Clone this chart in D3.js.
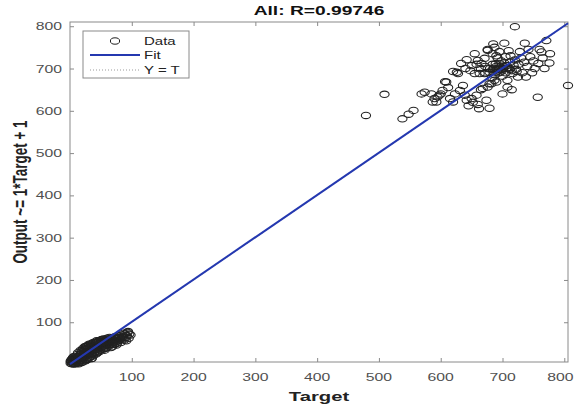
<!DOCTYPE html>
<html>
<head>
<meta charset="utf-8">
<script src="https://cdn.jsdelivr.net/npm/d3@7"></script>
<style>
  html, body { margin: 0; padding: 0; background: #fff; }
  svg { display: block; font-family: "Liberation Sans", Arial, Helvetica, sans-serif; }
</style>
</head>
<body>
<svg id="chart" width="575" height="408"></svg>
<script>
// ---- data ----
const titleText = "All: R=0.99746";
const xLabel = "Target";
const yLabel = "Output ~= 1*Target + 1";
const xTicks = [100, 200, 300, 400, 500, 600, 700, 800];
const yTicks = [100, 200, 300, 400, 500, 600, 700, 800];
const xDomain = [0, 806];
const yDomain = [6, 810];
const fitSlope = 1;
const fitIntercept = 1;
const legendLabels = ["Data", "Fit", "Y = T"];

// upper cluster [target, output]
const highPoints = [
  [479,589],[509,639],[538,581],[548,592],[720,799],[806,660],[757,632],[736,760],[771,766],[763,739],[777,735],[776,713],[768,700],
  [556,601],[569,640],[574,644],[585,640],[590,629],[593,621],[587,621],[598,637],[603,648],[609,668],[615,629],[620,621],[623,640],
  [631,648],[639,637],[642,625],[650,629],[658,637],[626,691],[628,688],[620,693],[607,669],[600,640],[595,633],[612,655],[636,660],
  [645,612],[652,620],[660,615],[665,650],[662,605],[640,700],[633,712],[642,721],[655,735],[676,745],[660,719],
  [650,707],[671,724],[676,743],[684,735],[687,750],[655,688],[663,688],[671,688],[679,691],[687,695],[692,700],[668,653],[676,656],
  [682,664],[687,672],[679,664],[679,606],[674,625],[708,656],[690,705],[695,712],[700,698],[702,705],[705,690],[698,718],[710,702],
  [712,715],[715,695],[718,708],[720,720],[700,682],[688,685],[694,690],[684,710],[680,700],[672,705],[666,712],[692,725],[705,728],
  [713,730],[722,698],[726,710],[730,725],[735,715],[740,705],[732,690],[725,680],[708,672],[690,668],[700,640],[715,650],[728,740],
  [745,728],[750,718],[742,745],[752,700],[758,712],[765,725],[760,745],[748,690],[738,680],[695,740],[685,758],[703,760],[690,730],
  [710,742],[697,692],[683,678],[672,690],[665,700],[658,710],[648,695],[686,700],[699,708],[706,700],[716,688],[723,693],[694,698],[689,711],
  [696,703],[703,713],[691,694],[707,707],[684,698],[701,701],[676,700],[712,698]
];

// lower cluster [target, output]
const lowPoints = [
  [1,3],[2,6],[3,2],[4,9],[5,4],[6,12],[7,7],[8,3],[9,10],[10,15],[3,12],[6,1],[8,14],[2,10],[5,17],[10,6],[7,19],[9,2],[4,14],[1,8],
  [11,9],[12,18],[13,4],[14,12],[15,22],[16,8],[17,15],[18,26],[19,5],[20,18],[12,24],[14,2],[16,20],[18,11],[19,30],[11,14],[13,28],[15,6],[17,33],[20,10],
  [21,14],[22,25],[23,36],[24,8],[25,20],[26,42],[27,30],[28,12],[29,25],[30,45],[21,38],[23,18],[25,34],[27,44],[28,22],[29,38],[30,15],[22,31],[24,42],[26,10],
  [31,28],[32,40],[33,48],[34,20],[35,14],[36,35],[37,50],[38,26],[39,44],[40,30],[32,18],[34,46],[36,24],[38,52],[40,40],[33,32],[35,42],[37,20],[39,36],[31,48],
  [41,48],[42,25],[43,36],[44,54],[45,30],[46,44],[47,56],[48,34],[49,50],[50,40],[42,52],[44,28],[46,54],[48,45],[50,58],[41,38],[43,56],[45,48],[47,30],[49,42],
  [51,46],[52,55],[53,36],[54,60],[55,44],[56,52],[57,38],[58,58],[59,48],[60,62],[52,42],[54,50],[56,34],[58,46],[60,55],[53,60],[55,57],[57,48],[59,40],[51,58],
  [61,50],[62,58],[63,44],[64,64],[65,52],[66,40],[67,60],[68,42],[69,56],[70,64],[62,46],[64,54],[66,62],[68,48],[70,52],
  [71,58],[72,48],[73,66],[74,54],[75,60],[76,50],[77,64],[78,56],[79,68],[80,58],[72,62],[75,46],[78,62],
  [81,64],[82,52],[84,70],[85,60],[86,66],[88,58],[89,72],[90,64],[92,68],[93,76],[95,62],[96,72],[98,70],[94,78],[91,56],[35,14],
  [27,36],[33,40],[39,28],[45,38],[51,52],[57,54],[63,56],[69,48],[83,62],[87,74],[24,28],[18,20],[14,18],[30,32],[42,44]
];

// ---- layout ----
const svg = d3.select("#chart");
const W = 575;
const L = 70, R = 568, T = 22, B = 362;
const x = d3.scaleLinear().domain(xDomain).range([L, R]);
const y = d3.scaleLinear().domain(yDomain).range([B, T]);
const SX = 1.5; // horizontal text stretch of the reference
const axisColor = "#8a8a8a";
const labelColor = "#505050";

// box
svg.append("rect").attr("x", L).attr("y", T).attr("width", R - L).attr("height", B - T)
  .attr("fill", "#fff").attr("stroke", axisColor).attr("stroke-width", 1);

// axes with inward ticks
const gxB = svg.append("g").attr("transform", `translate(0,${B})`)
  .call(d3.axisBottom(x).tickValues(xTicks).tickSizeInner(-4).tickSizeOuter(0).tickFormat(() => ""));
const gxT = svg.append("g").attr("transform", `translate(0,${T})`)
  .call(d3.axisTop(x).tickValues(xTicks).tickSizeInner(-4).tickSizeOuter(0).tickFormat(() => ""));
const gyL = svg.append("g").attr("transform", `translate(${L},0)`)
  .call(d3.axisLeft(y).tickValues(yTicks).tickSizeInner(-4).tickSizeOuter(0).tickFormat(() => ""));
const gyR = svg.append("g").attr("transform", `translate(${R},0)`)
  .call(d3.axisRight(y).tickValues(yTicks).tickSizeInner(-4).tickSizeOuter(0).tickFormat(() => ""));
[gxB, gxT, gyL, gyR].forEach(g => {
  g.select(".domain").remove();
  g.selectAll("line").attr("stroke", axisColor);
});

// tick labels (stretched horizontally like the reference)
const tickFont = 10.5;
const xHalf = 1.668 * tickFont * SX / 2;
svg.append("g").selectAll("text").data(xTicks).join("text")
  .attr("transform", d => `translate(${Math.min(x(d), W - xHalf - 1.5)},${B + 19}) scale(${SX},1)`)
  .attr("text-anchor", "middle").attr("font-size", tickFont).attr("fill", labelColor)
  .text(d => d);
svg.append("g").selectAll("text").data(yTicks).join("text")
  .attr("transform", d => `translate(${L - 8},${y(d) + 4}) scale(${SX},1)`)
  .attr("text-anchor", "end").attr("font-size", tickFont).attr("fill", labelColor)
  .text(d => d);

// Y = T line (dotted)
svg.append("line")
  .attr("x1", x(Math.max(xDomain[0], yDomain[0]))).attr("y1", y(Math.max(xDomain[0], yDomain[0])))
  .attr("x2", x(xDomain[1])).attr("y2", y(xDomain[1]))
  .attr("stroke", "#9a9a9a").attr("stroke-width", 1).attr("stroke-dasharray", "1,2");

// data points
const allPts = lowPoints.concat(highPoints);
svg.append("g").selectAll("ellipse").data(allPts).join("ellipse")
  .attr("cx", d => x(d[0])).attr("cy", d => y(d[1]))
  .attr("rx", 4.6).attr("ry", 3.2)
  .attr("fill", "none").attr("stroke", "#222").attr("stroke-width", 1.1);

// fit line
const fx0 = xDomain[0], fx1 = xDomain[1];
svg.append("line")
  .attr("x1", x(fx0)).attr("y1", y(fitSlope * fx0 + fitIntercept))
  .attr("x2", x(fx1)).attr("y2", y(fitSlope * fx1 + fitIntercept))
  .attr("stroke", "#2438b0").attr("stroke-width", 2);

// title and labels
svg.append("text").attr("transform", `translate(${(L + R) / 2},${15}) scale(1.6,1)`)
  .attr("text-anchor", "middle").attr("font-size", 12).attr("font-weight", "bold").attr("fill", "#111")
  .text(titleText);
svg.append("text").attr("transform", `translate(${(L + R) / 2},${401}) scale(${SX},1)`)
  .attr("text-anchor", "middle").attr("font-size", 13.5).attr("font-weight", "bold").attr("fill", "#222")
  .text(xLabel);
svg.append("text").attr("transform", `translate(${27},${(T + B) / 2}) rotate(-90) scale(1,${SX})`)
  .attr("text-anchor", "middle").attr("font-size", 13.5).attr("font-weight", "bold").attr("fill", "#222")
  .text(yLabel);

// legend
const lg = svg.append("g");
lg.append("rect").attr("x", 83).attr("y", 31).attr("width", 106).attr("height", 47)
  .attr("fill", "#fff").attr("stroke", axisColor).attr("stroke-width", 1);
const rows = [41, 55, 70];
lg.append("ellipse").attr("cx", 115).attr("cy", rows[0]).attr("rx", 4.6).attr("ry", 3.2)
  .attr("fill", "none").attr("stroke", "#222");
lg.append("line").attr("x1", 90).attr("x2", 140).attr("y1", rows[1]).attr("y2", rows[1])
  .attr("stroke", "#2438b0").attr("stroke-width", 2);
lg.append("line").attr("x1", 90).attr("x2", 140).attr("y1", rows[2]).attr("y2", rows[2])
  .attr("stroke", "#9a9a9a").attr("stroke-dasharray", "1,2");
lg.selectAll("text.lab").data(legendLabels).join("text")
  .attr("class", "lab")
  .attr("transform", (d, i) => `translate(144,${rows[i] + 3.5}) scale(${SX},1)`)
  .attr("font-size", 10).attr("fill", "#222")
  .text(d => d);
</script>
</body>
</html>
